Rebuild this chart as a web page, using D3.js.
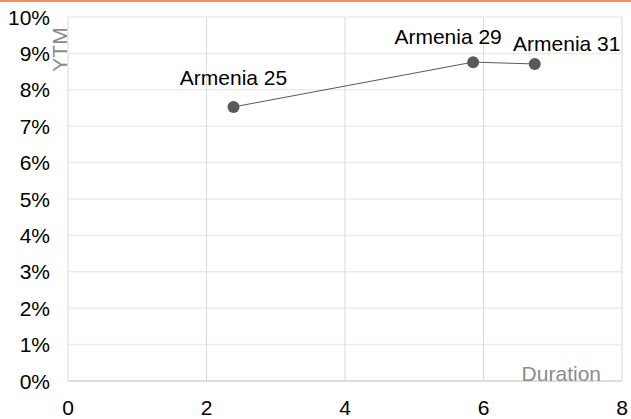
<!DOCTYPE html>
<html>
<head>
<meta charset="utf-8">
<script src="https://cdn.jsdelivr.net/npm/d3@7"></script>
<style>
  html, body { margin: 0; padding: 0; background: #fff; }
  svg { display: block; font-family: "Liberation Sans", Arial, sans-serif; }
</style>
</head>
<body>
<svg id="chart" width="631" height="419"></svg>
<script>
// Data
const bonds = ["Armenia 25", "Armenia 29", "Armenia 31"];
const duration = [2.39, 5.85, 6.74];
const ytm = [0.0753, 0.0876, 0.0871];
const xTicks = [0, 2, 4, 6, 8];
const yTicks = [0, 0.01, 0.02, 0.03, 0.04, 0.05, 0.06, 0.07, 0.08, 0.09, 0.10];

// Layout
const W = 631, H = 419;
const plotL = 68, plotR = 622, plotT = 17, plotB = 381;
const labelOffsets = [[0, -22], [-25, -18], [32, -13]];

const svg = d3.select("#chart");
svg.append("rect").attr("width", W).attr("height", H).attr("fill", "#fff");
svg.append("rect").attr("x", 0).attr("y", 0).attr("width", W).attr("height", 2).attr("fill", "#f4896b");

const x = d3.scaleLinear().domain([0, 8]).range([plotL, plotR]);
const y = d3.scaleLinear().domain([0, 0.10]).range([plotB, plotT]);

// horizontal gridlines
svg.append("g").selectAll("line").data(yTicks).join("line")
  .attr("x1", plotL).attr("x2", plotR)
  .attr("y1", d => y(d)).attr("y2", d => y(d))
  .attr("stroke", "#ebebeb").attr("stroke-width", 1.5);

// vertical gridlines
svg.append("g").selectAll("line").data(xTicks).join("line")
  .attr("x1", d => x(d)).attr("x2", d => x(d))
  .attr("y1", plotT).attr("y2", plotB)
  .attr("stroke", "#d9d9d9").attr("stroke-width", 1);

// bottom axis line
svg.append("line").attr("x1", plotL).attr("x2", plotR)
  .attr("y1", plotB).attr("y2", plotB)
  .attr("stroke", "#d9d9d9").attr("stroke-width", 1.5);

// y tick labels
const fmt = d3.format(".0%");
svg.append("g").selectAll("text").data(yTicks).join("text")
  .attr("x", 50).attr("y", d => y(d) + 7.5)
  .attr("text-anchor", "end").attr("font-size", 21).attr("fill", "#000")
  .text(d => fmt(d));

// x tick labels
svg.append("g").selectAll("text").data(xTicks).join("text")
  .attr("x", d => x(d)).attr("y", 415)
  .attr("text-anchor", "middle").attr("font-size", 21).attr("fill", "#000")
  .text(d => d);

// axis titles
svg.append("text").attr("x", 601).attr("y", 381)
  .attr("text-anchor", "end").attr("font-size", 21).attr("fill", "#8c8c8c")
  .text("Duration");
svg.append("text").attr("transform", "translate(67,49.5) rotate(-90)")
  .attr("text-anchor", "middle").attr("font-size", 21).attr("fill", "#8c8c8c")
  .text("YTM");

// line and points
const pts = bonds.map((b, i) => ({ name: b, x: duration[i], y: ytm[i], off: labelOffsets[i] }));
svg.append("path").datum(pts)
  .attr("d", d3.line().x(d => x(d.x)).y(d => y(d.y)))
  .attr("fill", "none").attr("stroke", "#595959").attr("stroke-width", 1);
svg.append("g").selectAll("circle").data(pts).join("circle")
  .attr("cx", d => x(d.x)).attr("cy", d => y(d.y)).attr("r", 6)
  .attr("fill", "#595959");
svg.append("g").selectAll("text").data(pts).join("text")
  .attr("x", d => x(d.x) + d.off[0]).attr("y", d => y(d.y) + d.off[1])
  .attr("text-anchor", "middle").attr("font-size", 21).attr("fill", "#000")
  .text(d => d.name);
</script>
</body>
</html>
